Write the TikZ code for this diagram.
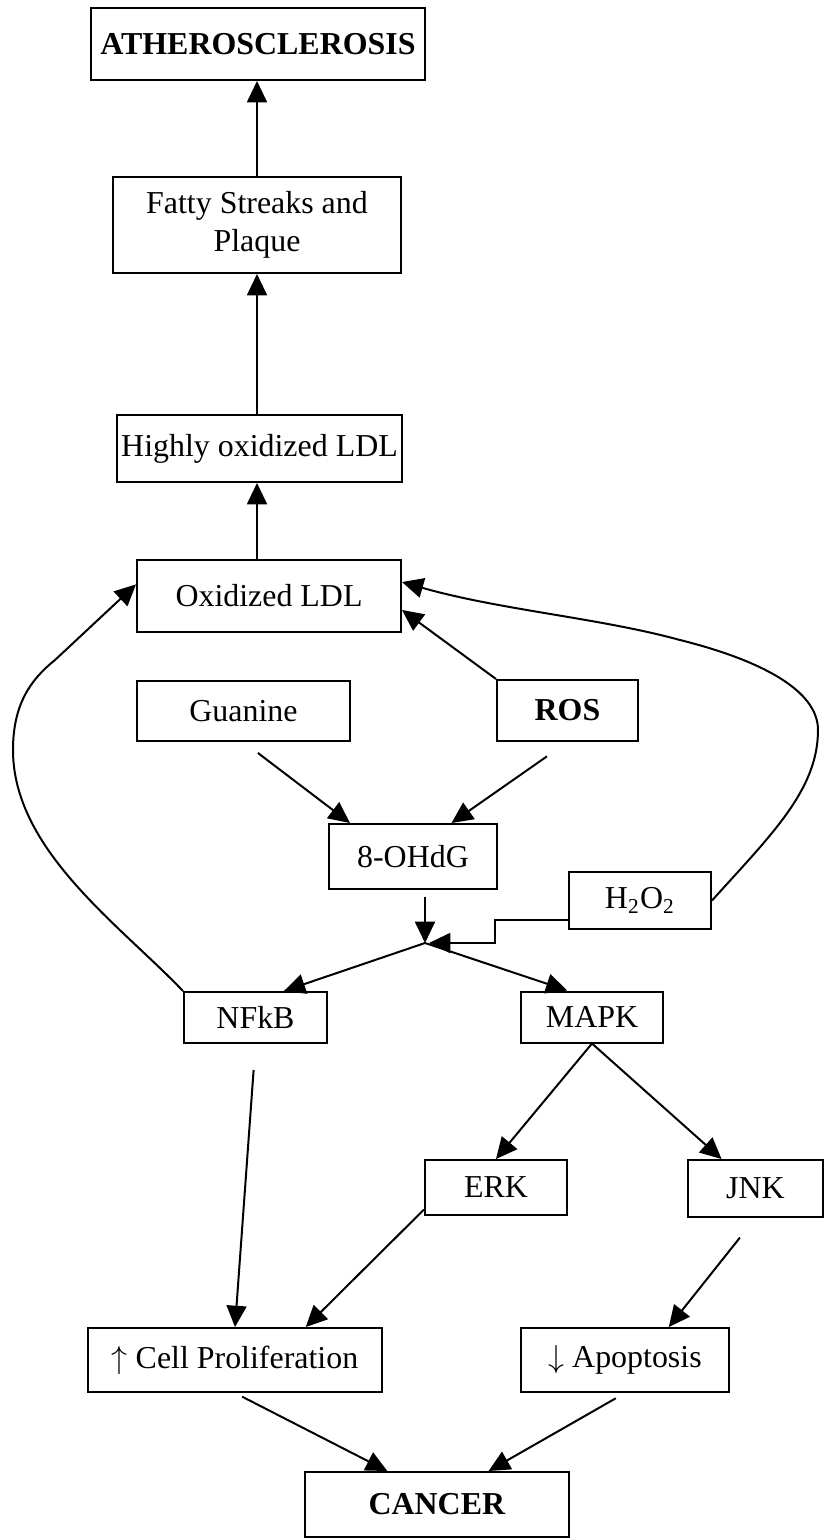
\documentclass[tikz,border=0pt]{standalone}
\usepackage{fontspec}
\setmainfont{Liberation Serif}
\usetikzlibrary{arrows.meta}

\begin{document}
\begin{tikzpicture}[x=0.376pt,y=-0.376pt,
    box/.style={draw,line width=0.75pt,inner sep=0pt,align=center,font=\fontsize{12}{14.3}\selectfont},
    sz/.style 2 args={minimum width=#1*0.376pt,minimum height=#2*0.376pt},
    arr/.style={line width=0.75pt,-{Triangle[length=8pt,width=7.5pt]}}]
    \useasboundingbox (0,0) rectangle (825,1540);

    % atherosclerosis branch
    \node[box,sz={334}{72}] (ather) at (258,44) {\textbf{ATHEROSCLEROSIS}};
    \node[box,sz={288}{96}] (fatty) at (257,225) {Fatty Streaks and\\Plaque};
    \node[box,sz={285}{67}] (highly) at (259.5,448.5) {Highly oxidized LDL};
    \node[box,sz={264}{72}] (oxldl) at (269,596) {Oxidized LDL};

    \node[box,sz={213}{60}] (guanine) at (243.5,711) {Guanine};
    \node[box,sz={141}{61}] (ros) at (567.5,710.5) {\textbf{ROS}};
    \node[box,sz={168}{65}] (ohdg) at (413,856.5) {8-OHdG};
    \node[box,sz={142}{57}] (hho) at (640,900.5) {H\textsubscript{2}O\textsubscript{2}};
    \coordinate (junc) at (425,943);

    % cancer branch
    \node[box,sz={143}{51}] (nfkb) at (255.5,1017.5) {NFkB};
    \node[box,sz={142}{51}] (mapk) at (592,1017) {MAPK};
    \node[box,sz={142}{55}] (erk) at (496,1187.5) {ERK};
    \node[box,sz={135}{57}] (jnk) at (755.5,1188.5) {JNK};
    \node[box,sz={294}{64}] (cell) at (235,1360) {$\uparrow$ Cell Proliferation};
    \node[box,sz={208}{64}] (apop) at (625,1360) {$\downarrow$ Apoptosis};
    \node[box,sz={264}{65}] (cancer) at (437,1504.5) {\textbf{CANCER}};

    \draw[arr] (fatty.north) -- (fatty.north |- ather.south);
    \draw[arr] (highly.north -| fatty.south) -- (fatty.south);
    \draw[arr] (oxldl.north -| fatty.south) -- (highly.south -| fatty.south);

    \draw[arr] (ros.north west) -- (oxldl.-6);
    \draw[arr] (hho.east) .. controls (771,835) and (818,790) .. (818,730)
        .. controls (818,690) and (760,660) .. (680,640)
        .. controls (600,618) and (500,610) .. (oxldl.6);
    \draw[arr] (nfkb.north west) .. controls (120,925) and (13,850) .. (13,750)
        .. controls (13,705) and (30,680) .. (55,660) -- (oxldl.175);

    \draw[arr,shorten <=6.8pt] (guanine.south) -- (ohdg.152);
    \draw[arr,shorten <=9.4pt] (ros.south) -- (ohdg.41);
    \draw[arr,shorten <=2.6pt] (ohdg.south -| junc) -- (junc);
    \draw[arr,shorten >=1.5pt] (hho.195) -- ++(-73,0) |- (junc);
    \draw[arr] (junc) -- (nfkb.43);
    \draw[arr] (junc) -- (mapk.133);

    \draw[arr] (mapk.south) -- (erk.north);
    \draw[arr] (mapk.south) -- (jnk.139);
    \draw[arr,shorten <=9.8pt] (nfkb.south) -- (cell.north);
    \draw[arr] (erk.197) -- (cell.25);
    \draw[arr,shorten <=9.4pt] (jnk.south) -- (apop.37);
    \draw[arr,shorten <=3pt] (cell.south) -- (cancer.146);
    \draw[arr,shorten <=4pt] (apop.south) -- (cancer.33);
\end{tikzpicture}
\end{document}
